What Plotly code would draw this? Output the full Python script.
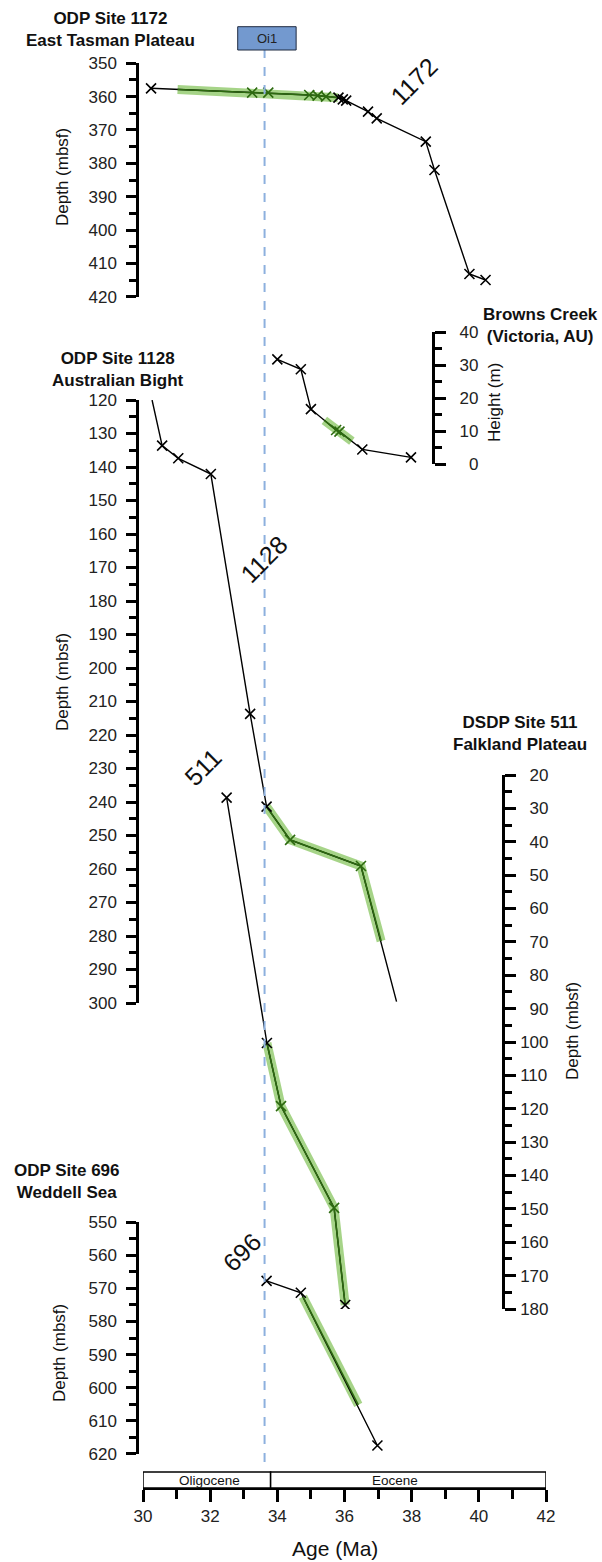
import plotly.graph_objects as go

W, H = 602, 1562
FONT = "Liberation Sans, Arial, sans-serif"

# ---------------- data (age in Ma, depth in mbsf / height in m) ----------------
# ODP Site 1172 - East Tasman Plateau
age_1172 = [30.24, 33.25, 33.73, 34.95, 35.20, 35.45, 35.82, 35.95, 36.05, 36.70, 36.96, 38.42, 38.68, 39.72, 40.20]
depth_1172 = [357.5, 358.8, 358.8, 359.5, 359.7, 360.0, 360.3, 360.8, 361.2, 364.5, 366.5, 373.5, 382.0, 413.2, 415.0]
band_age_1172 = [31.03, 33.25, 33.73, 34.95, 35.20, 35.45, 35.80]
band_depth_1172 = [357.85, 358.8, 358.8, 359.5, 359.7, 360.0, 360.3]

# ODP Site 1128 - Australian Bight
age_1128 = [30.57, 31.05, 32.02, 33.19, 33.68, 34.38, 36.49]
depth_1128 = [133.6, 137.4, 142.1, 213.7, 241.4, 251.3, 259.1]
line_age_1128 = [30.27, 30.57, 31.05, 32.02, 33.19, 33.68, 34.38, 36.49, 37.55]
line_depth_1128 = [120.0, 133.6, 137.4, 142.1, 213.7, 241.4, 251.3, 259.1, 299.6]
band_age_1128 = [33.68, 34.38, 36.49, 37.09]
band_depth_1128 = [241.4, 251.3, 259.1, 281.5]

# Browns Creek (Victoria, AU)
age_bc = [34.00, 34.70, 35.00, 35.75, 35.85, 36.53, 37.98]
height_bc = [31.8, 28.8, 16.7, 10.4, 9.9, 4.5, 2.1]
band_age_bc = [35.40, 35.75, 35.85, 36.22]
band_height_bc = [13.3, 10.4, 9.9, 7.0]

# DSDP Site 511 - Falkland Plateau
age_511 = [32.49, 33.69, 34.11, 35.69, 36.02]
depth_511 = [26.8, 100.3, 119.2, 149.7, 178.8]
band_age_511 = [33.69, 34.11, 35.69, 36.02]
band_depth_511 = [100.3, 119.2, 149.7, 178.8]

# ODP Site 696 - Weddell Sea
age_696 = [33.68, 34.70, 36.98]
depth_696 = [567.7, 571.3, 617.5]
band_age_696 = [34.76, 36.41]
band_depth_696 = [572.5, 605.2]

oi1_age = 33.62
epochs = ["Oligocene", "Eocene"]
epoch_bounds = [30.0, 33.8, 42.0]
epoch_label_age = [31.99, 37.49]

ticks_1172 = [350, 360, 370, 380, 390, 400, 410, 420]
ticks_1128 = list(range(120, 301, 10))
ticks_bc = [0, 10, 20, 30, 40]
ticks_511 = list(range(20, 181, 10))
ticks_696 = [550, 560, 570, 580, 590, 600, 610, 620]
ticks_age = [30, 32, 34, 36, 38, 40, 42]

# ---------------- styling helpers ----------------
BAND = "rgba(150,205,115,0.85)"
DKGREEN = "#2d6a10"


def fx(px):
    return px / W


def fy(py):
    return 1 - py / H


def pad(v):
    s = str(v)
    return "\u2007" * (3 - len(s)) + s


fig = go.Figure()

sites = [
    ("y", age_1172, depth_1172, age_1172, depth_1172, band_age_1172, band_depth_1172),
    ("y2", age_1128, depth_1128, line_age_1128, line_depth_1128, band_age_1128, band_depth_1128),
    ("y3", age_bc, height_bc, age_bc, height_bc, band_age_bc, band_height_bc),
    ("y4", age_511, depth_511, age_511, depth_511, band_age_511, band_depth_511),
    ("y5", age_696, depth_696, age_696, depth_696, band_age_696, band_depth_696),
]

# highlight bands
for ya, pa, pd, la, ld, ba, bd in sites:
    fig.add_trace(go.Scatter(x=ba, y=bd, xaxis="x", yaxis=ya, mode="lines",
                             line=dict(color=BAND, width=9), hoverinfo="skip", showlegend=False))
# black connecting lines
for ya, pa, pd, la, ld, ba, bd in sites:
    fig.add_trace(go.Scatter(x=la, y=ld, xaxis="x", yaxis=ya, mode="lines",
                             line=dict(color="black", width=1.4), showlegend=False))
# dark green lines over bands
for ya, pa, pd, la, ld, ba, bd in sites:
    fig.add_trace(go.Scatter(x=ba, y=bd, xaxis="x", yaxis=ya, mode="lines",
                             line=dict(color=DKGREEN, width=1.6), showlegend=False))
# markers
for ya, pa, pd, la, ld, ba, bd in sites:
    cols = [DKGREEN if ba[0] < a < ba[-1] else "black" for a in pa]
    fig.add_trace(go.Scatter(x=pa, y=pd, xaxis="x", yaxis=ya, mode="markers",
                             marker=dict(symbol="x-thin", size=10, color=cols,
                                         line=dict(width=1.6, color=cols)),
                             showlegend=False))


def yax(top, bottom, rng, ticks, xpos, side="left", text=None, minor=5):
    d = dict(domain=[fy(bottom), fy(top)], range=rng, autorange=False, anchor="free",
             position=fx(xpos), side=side, showline=True, linewidth=2.5, linecolor="black",
             ticks="outside", ticklen=10 if side == "left" else 11, tickwidth=2.5, tickcolor="black",
             tickmode="array", tickvals=ticks,
             minor=dict(dtick=minor, ticks="outside", ticklen=7, tickwidth=2.5, tickcolor="black"),
             tickfont=dict(size=17, color="#222", family=FONT),
             showgrid=False, zeroline=False, automargin=False,
             ticklabelstandoff=6 if side == "left" else 1)
    if text is not None:
        d["ticktext"] = text
    return d


fig.update_layout(
    width=W, height=H,
    margin=dict(l=0, r=0, t=0, b=0),
    paper_bgcolor="white", plot_bgcolor="rgba(0,0,0,0)",
    font=dict(family=FONT, color="#111"),
    showlegend=False,
    xaxis=dict(domain=[fx(143), fx(546)], range=[30, 42], autorange=False,
               anchor="free", position=fy(1488), showline=True, linewidth=2.5, linecolor="black",
               ticks="outside", ticklen=12, tickwidth=2.5, tickcolor="black",
               tickmode="array", tickvals=ticks_age,
               minor=dict(dtick=1, ticks="outside", ticklen=9, tickwidth=2.5, tickcolor="black"),
               tickfont=dict(size=17, color="#222", family=FONT),
               showgrid=False, zeroline=False, automargin=False),
    yaxis=yax(63.3, 296.7, [420, 350], ticks_1172, 137),
    yaxis2=yax(400, 1003, [300, 120], ticks_1128, 137),
    yaxis3=yax(332.3, 464.3, [0, 40], ticks_bc, 433, side="right",
               text=[pad(v) for v in ticks_bc]),
    yaxis4=yax(775, 1309, [180, 20], ticks_511, 503, side="right",
               text=[pad(v) for v in ticks_511]),
    yaxis5=yax(1222.3, 1453.8, [620, 550], ticks_696, 137),
)

# Oi1 dashed line and box
fig.add_shape(type="line", xref="x", yref="paper", x0=oi1_age, x1=oi1_age,
              y0=fy(1462), y1=fy(50), line=dict(color="#8db0de", width=2, dash="dash"))
fig.add_shape(type="rect", xref="x", yref="paper", x0=32.82, x1=34.56,
              y0=fy(50), y1=fy(26.7), fillcolor="#7399cf", line=dict(color="#1f2a40", width=1))
fig.add_annotation(x=(32.82 + 34.56) / 2, y=fy(38.5), xref="x", yref="paper", text="Oi1",
                   showarrow=False, xanchor="center", yanchor="middle",
                   font=dict(size=13, color="#222", family=FONT))

# epoch bar
for i, name in enumerate(epochs):
    fig.add_shape(type="rect", xref="x", yref="paper", x0=epoch_bounds[i], x1=epoch_bounds[i + 1],
                  y0=fy(1488), y1=fy(1472), fillcolor="white", line=dict(color="black", width=1.5))
    fig.add_annotation(x=epoch_label_age[i], y=fy(1480.5), xref="x", yref="paper", text=name,
                       showarrow=False, xanchor="center", yanchor="middle",
                       font=dict(size=13.5, color="#111", family=FONT))


def ann(x, y, text, size=17, angle=0, bold=False):
    fig.add_annotation(x=fx(x), y=fy(y), xref="paper", yref="paper",
                       text=("<b>" + text.replace("<br>", "</b><br><b>") + "</b>") if bold else text,
                       showarrow=False, textangle=angle, xanchor="center", yanchor="middle",
                       font=dict(size=size, color="#111", family=FONT))


# site titles
ann(111, 29, "ODP Site 1172<br>East Tasman Plateau", bold=True)
ann(118, 369, "ODP Site 1128<br>Australian Bight", bold=True)
ann(540, 325, "Browns Creek<br>(Victoria, AU)", bold=True)
ann(520, 733, "DSDP Site 511<br>Falkland Plateau", bold=True)
ann(67, 1181, "ODP Site 696<br>Weddell Sea", bold=True)

# axis titles
ann(62, 177, "Depth (mbsf)", angle=-90)
ann(62, 682, "Depth (mbsf)", angle=-90)
ann(59, 1353, "Depth (mbsf)", angle=-90)
ann(572, 1031, "Depth (mbsf)", angle=-90)
ann(494, 403, "Height (m)", angle=-90)
ann(335, 1548, "Age (Ma)", size=21)

# site labels along curves
ann(414, 81, "1172", size=25, angle=-45)
ann(264, 559, "1128", size=25, angle=-45)
ann(203, 767, "511", size=25, angle=-45)
ann(242, 1252, "696", size=25, angle=-45)

fig.write_html("out.html", config={"displayModeBar": False},
               post_script="document.body.style.margin='0';document.body.style.overflow='hidden';")
